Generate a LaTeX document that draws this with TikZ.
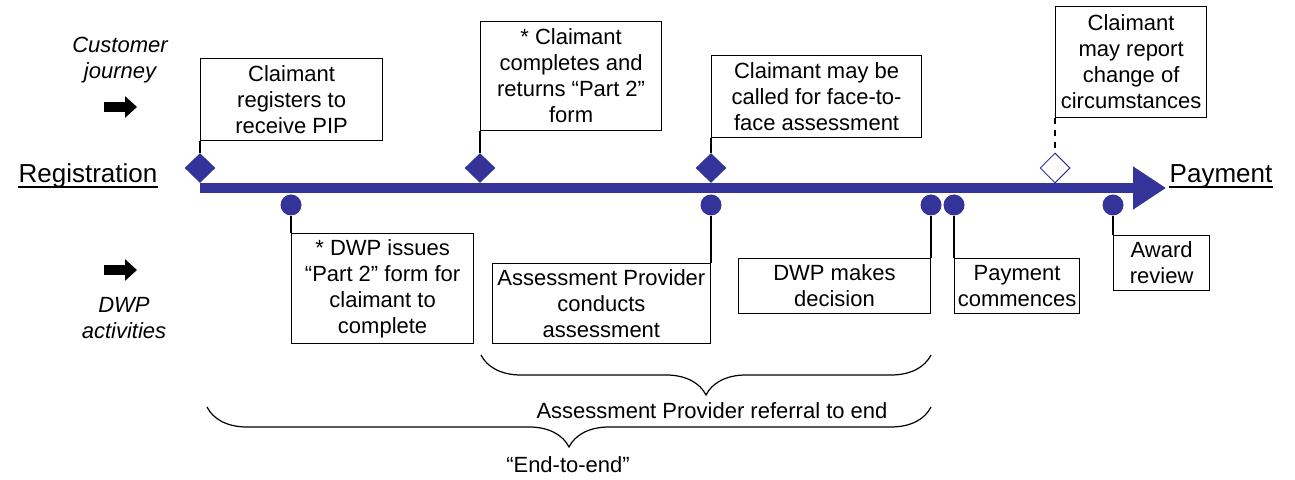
\documentclass[tikz,border=0pt]{standalone}
\usepackage{fontspec}
\setmainfont{Liberation Sans}
\usetikzlibrary{shapes.geometric,arrows.meta,decorations.pathreplacing}
\definecolor{pipnavy}{RGB}{51,51,153}

\tikzset{
  box/.style={draw, line width=0.6pt, align=center, inner sep=0pt, font=\fontsize{11}{13}\selectfont},
  keydiamond/.style={diamond, fill=pipnavy, inner sep=0pt, minimum width=15.5pt, minimum height=15pt},
  opendiamond/.style={diamond, draw=pipnavy, fill=white, line width=0.5pt, inner sep=0pt, minimum width=15pt, minimum height=15pt},
  dwpdot/.style={circle, fill=pipnavy, inner sep=0pt, minimum size=10.5pt},
  link/.style={line width=0.6pt},
  blockarrow/.style={line width=5pt, -{Triangle[length=6pt,width=10.5pt]}},
  endlabel/.style={anchor=base, inner sep=0pt, font=\fontsize{13}{15}\selectfont},
  underline/.style={line width=0.6pt},
  sidelabel/.style={align=center, font=\fontsize{11}{13}\selectfont\itshape},
  span/.style={line width=0.6pt, decorate, decoration={brace, amplitude=20pt, mirror}},
  spanlabel/.style={font=\fontsize{11}{13}\selectfont}
}

\begin{document}
\begin{tikzpicture}[x=0.5pt, y=-0.5pt]
    \useasboundingbox (0,0) rectangle (1295,480);

    % Timeline
    \coordinate (start) at (200,188);
    \coordinate (finish) at (1166,188);
    \draw[pipnavy, line width=5pt, -{Triangle[length=16.5pt,width=20.5pt]}] (start) -- (finish);
    \node[endlabel] (registration) at (88,183) {Registration};
    \draw[underline] ([yshift=-2pt]registration.base west) -- ([yshift=-2pt]registration.base east);
    \node[endlabel] (payment) at (1221,183) {Payment};
    \draw[underline] ([yshift=-2pt]payment.base west) -- ([yshift=-2pt]payment.base east);

    % side labels
    \node[sidelabel] (journey) at (120,60) {Customer\\journey};
    \coordinate (ja) at (104,107);
    \coordinate (jb) at (137,107);
    \draw[blockarrow] (ja) -- (jb);
    \coordinate (da) at (104,270);
    \coordinate (db) at (137,270);
    \draw[blockarrow] (da) -- (db);
    \node[sidelabel] (activities) at (124,318) {DWP\\activities};

    % Customer journey milestones
    \node[keydiamond] (d1) at (200,168) {};
    \node[keydiamond] (d2) at (480,168) {};
    \node[keydiamond] (d3) at (711,168) {};
    \node[opendiamond] (d4) at (1055,168) {};

    \node[box, anchor=south west, minimum width=91pt, minimum height=41pt] (register) at (200,141)
        {Claimant\\registers to\\receive PIP};
    \node[box, anchor=south west, minimum width=90.5pt, minimum height=54.5pt] (returns) at (480,131)
        {* Claimant\\completes and\\returns “Part 2”\\form};
    \node[box, anchor=south west, minimum width=105pt, minimum height=41pt] (called) at (711,138)
        {Claimant may be\\called for face-to-\\face assessment};
    \node[box, anchor=south west, minimum width=75.5pt, minimum height=55.5pt] (change) at (1055,118)
        {Claimant\\may report\\change of\\circumstances};

    \draw[link] (register.south west) -- (d1.north);
    \draw[link] (returns.south west) -- (d2.north);
    \draw[link] (called.south west) -- (d3.north);
    \draw[link, dashed] (change.south west) -- (d4.north);

    % DWP activities
    \node[dwpdot] (c1) at (291,205) {};
    \node[dwpdot] (c2) at (711,205) {};
    \node[dwpdot] (c3) at (931,205) {};
    \node[dwpdot] (c4) at (954,205) {};
    \node[dwpdot] (c5) at (1113,205) {};

    \node[box, anchor=north west, minimum width=91pt, minimum height=55pt] (issues) at (291,233)
        {* DWP issues\\“Part 2” form for\\claimant to\\complete};
    \node[box, anchor=north east, minimum width=109pt, minimum height=40pt] (conducts) at (711,263)
        {Assessment Provider\\conducts\\assessment};
    \node[box, anchor=north east, minimum width=96pt, minimum height=27.5pt] (decision) at (931,258)
        {DWP makes\\decision};
    \node[box, anchor=north west, minimum width=62.5pt, minimum height=27.5pt] (commences) at (954,258)
        {Payment\\commences};
    \node[box, anchor=north west, minimum width=48pt, minimum height=27.5pt] (review) at (1113,235)
        {Award\\review};

    \draw[link] (c1.south) -- (issues.north west);
    \draw[link] (c2.south) -- (conducts.north east);
    \draw[link] (c3.south) -- (decision.north east);
    \draw[link] (c4.south) -- (commences.north west);
    \draw[link] (c5.south) -- (review.north west);

    % Spans
    \coordinate (ra) at (481,355);
    \coordinate (rb) at (931,355);
    \draw[span] (ra) -- (rb);
    \node[spanlabel] (referral) at (712,411) {Assessment Provider referral to end};

    \coordinate (ea) at (207,407);
    \coordinate (eb) at (931,407);
    \draw[span] (ea) -- (eb);
    \node[spanlabel] (endtoend) at (568,465) {“End-to-end”};

\end{tikzpicture}
\end{document}
